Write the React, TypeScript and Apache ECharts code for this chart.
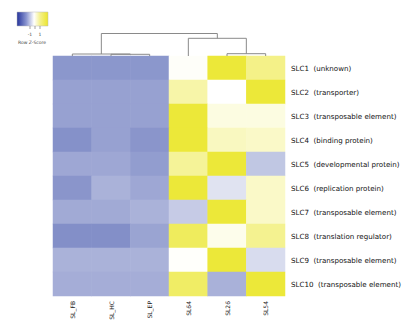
import React, { useEffect, useRef } from "react";
import * as echarts from "echarts";

const samples = ["SL_FB", "SL_HC", "SL_EP", "SL64", "SL26", "SL54"];
const genes = [
  "SLC1  (unknown)",
  "SLC2  (transporter)",
  "SLC3  (transposable element)",
  "SLC4  (binding protein)",
  "SLC5  (developmental protein)",
  "SLC6  (replication protein)",
  "SLC7  (transposable element)",
  "SLC8  (translation regulator)",
  "SLC9  (transposable element)",
  "SLC10  (transposable element)",
];
// Row Z-scores, one row per gene, columns in the order of `samples`
const zSLC1 = [-0.87, -0.87, -0.87, 0.03, 1.0, 0.6];
const zSLC2 = [-0.78, -0.78, -0.78, 0.44, 0.0, 1.0];
const zSLC3 = [-0.78, -0.78, -0.78, 1.0, 0.15, 0.15];
const zSLC4 = [-0.92, -0.78, -0.88, 1.0, 0.32, 0.28];
const zSLC5 = [-0.73, -0.73, -0.82, 0.52, 1.0, -0.47];
const zSLC6 = [-0.88, -0.64, -0.73, 1.0, -0.23, 0.28];
const zSLC7 = [-0.71, -0.71, -0.64, -0.43, 1.0, 0.28];
const zSLC8 = [-0.93, -0.93, -0.76, 0.82, 0.1, 0.56];
const zSLC9 = [-0.64, -0.64, -0.64, 0.02, 1.0, -0.29];
const zSLC10 = [-0.68, -0.68, -0.68, 0.78, -0.65, 1.0];
const rows = [zSLC1, zSLC2, zSLC3, zSLC4, zSLC5, zSLC6, zSLC7, zSLC8, zSLC9, zSLC10];

// Column dendrogram merges: [xLeft, hLeft, xRight, hRight, hMerge] (x in column units)
const dendro = [
  [1.5, 0, 2.5, 0, 1.7],
  [0.5, 0, 2.0, 1.7, 2.0],
  [4.5, 0, 5.5, 0, 2.3],
  [3.5, 0, 5.0, 2.3, 17.7],
  [1.25, 2.0, 4.25, 17.7, 22.5],
];

const legendTicks = ["-1", "1"];

export default function App() {
  const ref = useRef<HTMLDivElement>(null);
  useEffect(() => {
    const chart = echarts.init(ref.current!, null, { renderer: "svg" });
    const data: number[][] = [];
    rows.forEach((r, i) => r.forEach((v, j) => data.push([j, i, v])));
    const font = "DejaVu Sans";
    chart.setOption({
      animation: false,
      backgroundColor: "#ffffff",
      grid: [
        { left: 53, right: 122, top: 56, bottom: 33 },
        { left: 53, right: 122, top: 30, height: 26 },
      ],
      xAxis: [
        {
          type: "category",
          data: samples,
          gridIndex: 0,
          position: "bottom",
          axisLine: { show: false },
          axisTick: { show: false },
          splitLine: { show: false },
          axisLabel: { rotate: 90, fontSize: 6, fontFamily: font, color: "#222", margin: 5 },
        },
        { type: "value", gridIndex: 1, min: 0, max: 6, show: false },
      ],
      yAxis: [
        {
          type: "category",
          data: genes,
          gridIndex: 0,
          inverse: true,
          position: "right",
          axisLine: { show: false },
          axisTick: { show: false },
          splitLine: { show: false },
          axisLabel: { fontSize: 7.1, fontFamily: font, color: "#111", margin: 6 },
        },
        { type: "value", gridIndex: 1, min: 0, max: 26, show: false },
      ],
      visualMap: {
        show: false,
        type: "continuous",
        min: -1,
        max: 1,
        seriesIndex: 0,
        inRange: { color: ["#7a87c4", "#ffffff", "#ece839"] },
      },
      series: [
        {
          type: "heatmap",
          xAxisIndex: 0,
          yAxisIndex: 0,
          data,
          itemStyle: { borderWidth: 0 },
        },
        {
          type: "custom",
          xAxisIndex: 1,
          yAxisIndex: 1,
          data: dendro,
          clip: false,
          renderItem: (params: any, api: any) => {
            const xl = api.value(0), hl = api.value(1), xr = api.value(2), hr = api.value(3), h = api.value(4);
            const p1 = api.coord([xl, hl]);
            const p2 = api.coord([xl, h]);
            const p3 = api.coord([xr, h]);
            const p4 = api.coord([xr, hr]);
            return {
              type: "polyline",
              shape: { points: [p1, p2, p3, p4] },
              style: { stroke: "#8a8a8a", fill: null, lineWidth: 1 },
            };
          },
        },
      ],
      graphic: [
        {
          type: "rect",
          shape: { x: 17, y: 12, width: 31, height: 14 },
          style: {
            fill: new echarts.graphic.LinearGradient(0, 0, 1, 0, [
              { offset: 0, color: "#25349c" },
              { offset: 0.3, color: "#8a95d0" },
              { offset: 0.55, color: "#ffffff" },
              { offset: 0.75, color: "#f4f08a" },
              { offset: 1, color: "#ebe52c" },
            ]),
            stroke: "#bbbbbb",
            lineWidth: 0.5,
          },
        },
        { type: "line", shape: { x1: 30, y1: 26, x2: 30, y2: 29 }, style: { stroke: "#666", lineWidth: 0.6 } },
        { type: "line", shape: { x1: 35, y1: 26, x2: 35, y2: 29 }, style: { stroke: "#666", lineWidth: 0.6 } },
        { type: "line", shape: { x1: 40, y1: 26, x2: 40, y2: 29 }, style: { stroke: "#666", lineWidth: 0.6 } },
        {
          type: "text",
          x: 30,
          y: 34,
          style: { text: legendTicks[0], fontSize: 4.5, fontFamily: font, fill: "#444", align: "center", verticalAlign: "middle" },
        },
        {
          type: "text",
          x: 40,
          y: 34,
          style: { text: legendTicks[1], fontSize: 4.5, fontFamily: font, fill: "#444", align: "center", verticalAlign: "middle" },
        },
        {
          type: "text",
          x: 32,
          y: 42,
          style: { text: "Row Z-Score", fontSize: 4.5, fontFamily: font, fill: "#444", align: "center", verticalAlign: "middle" },
        },
      ],
    });
    return () => chart.dispose();
  }, []);
  return <div ref={ref} style={{ width: 407, height: 329, position: "absolute", left: 0, top: 0 }} />;
}
